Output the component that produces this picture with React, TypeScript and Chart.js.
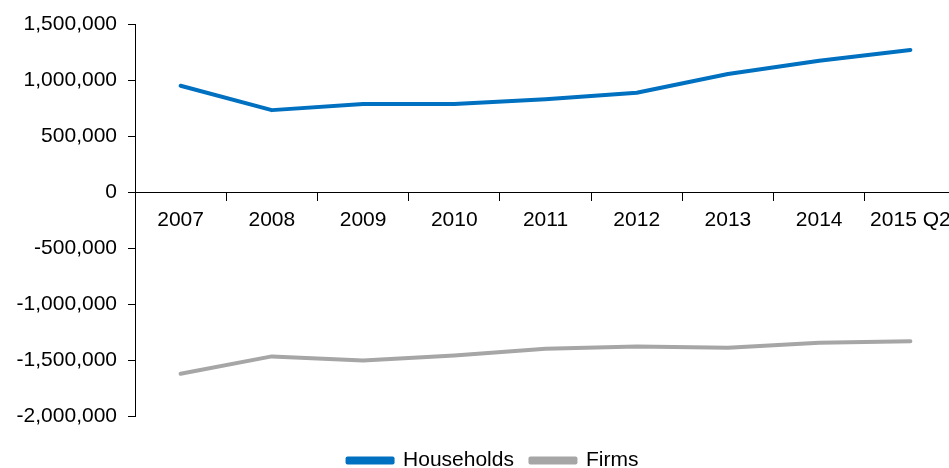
import React, { useEffect, useRef } from "react";
import { Chart, registerables } from "chart.js";

Chart.register(...registerables);

const categories = ["2007", "2008", "2009", "2010", "2011", "2012", "2013", "2014", "2015 Q2"];
const households = [949000, 732000, 786000, 786000, 828000, 887000, 1054000, 1172000, 1268000];
const firms = [-1619000, -1464000, -1500000, -1455000, -1396000, -1375000, -1387000, -1342000, -1330000];
const yMin = -2000000;
const yMax = 1500000;
const yStep = 500000;

const FONT = '"Liberation Sans", Arial, sans-serif';

export default function App() {
  const ref = useRef<HTMLCanvasElement | null>(null);

  useEffect(() => {
    if (!ref.current) return;
    const chart = new Chart(ref.current, {
      type: "line",
      data: {
        labels: categories,
        datasets: [
          {
            label: "Households",
            data: households,
            borderColor: "#0070C0",
            backgroundColor: "#0070C0",
            borderWidth: 4,
            pointRadius: 0,
            tension: 0,
            borderCapStyle: "round",
            borderJoinStyle: "round",
          },
          {
            label: "Firms",
            data: firms,
            borderColor: "#A6A6A6",
            backgroundColor: "#A6A6A6",
            borderWidth: 4,
            pointRadius: 0,
            tension: 0,
            borderCapStyle: "round",
            borderJoinStyle: "round",
          },
        ],
      },
      options: {
        responsive: false,
        animation: false,
        layout: { padding: { top: 24, left: 14, right: 0, bottom: 0 } },
        plugins: {
          tooltip: { enabled: false },
          legend: {
            position: "bottom",
            align: "center",
            title: {
              display: true,
              text: " ",
              font: { size: 10, lineHeight: 1 },
              padding: { top: 0, bottom: 7 },
            },
            labels: {
              boxWidth: 45,
              boxHeight: 4,
              padding: 16.5,
              color: "#000",
              font: { family: FONT, size: 21 },
            },
          },
        },
        scales: {
          x: {
            type: "category",
            position: { y: 0 },
            offset: true,
            border: { display: true, color: "#000", width: 1 },
            grid: {
              display: true,
              drawOnChartArea: false,
              drawTicks: true,
              tickLength: 8,
              offset: true,
              color: "#000",
            },
            ticks: {
              color: "#000",
              font: { family: FONT, size: 21 },
              padding: 7,
              maxRotation: 0,
              autoSkip: false,
            },
            afterFit: (scale: any) => {
              scale.height = 0;
              scale.paddingLeft = 0;
              scale.paddingRight = 16;
            },
          },
          y: {
            min: yMin,
            max: yMax,
            border: { display: true, color: "#000", width: 1 },
            grid: {
              display: true,
              drawOnChartArea: false,
              drawTicks: true,
              tickLength: 7,
              color: "#000",
            },
            ticks: {
              stepSize: yStep,
              color: "#000",
              padding: 11,
              font: { family: FONT, size: 21 },
              callback: (v: any) => Number(v).toLocaleString("en-US"),
            },
            afterFit: (scale: any) => {
              scale.width = 121;
            },
          },
        },
      },
    });
    return () => chart.destroy();
  }, []);

  return (
    <div style={{ position: "absolute", left: 0, top: 0, width: 949, height: 468, overflow: "hidden", background: "#fff" }}>
      <canvas ref={ref} width={972} height={481} style={{ display: "block" }} />
    </div>
  );
}
